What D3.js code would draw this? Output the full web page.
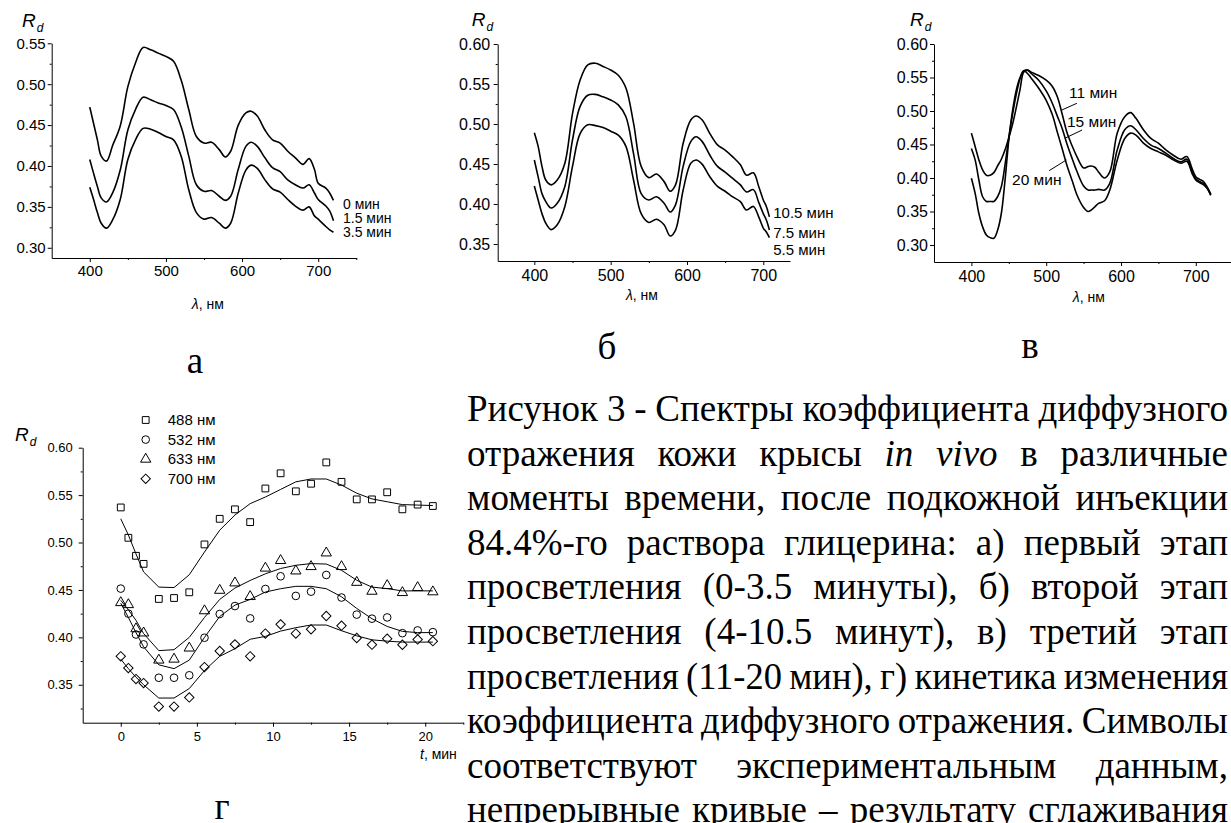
<!DOCTYPE html>
<html>
<head>
<meta charset="utf-8">
<script src="https://cdn.jsdelivr.net/npm/d3@7"></script>
<style>
  html, body { margin: 0; padding: 0; background: #fff; }
  svg { display: block; }
  .ax path, .ax line { stroke: #000; stroke-width: 1; fill: none; }
  .ax text { fill: #000; font-family: "Liberation Sans", Arial, Helvetica, sans-serif; }
</style>
</head>
<body>
<svg id="fig" width="1231" height="823"></svg>
<script>
// ---------- panel а: first clearing stage ----------
const waveA = [400,405,410,415,422,430,440,450,460,470,480,490,500,510,520,530,540,550,560,570,
               578,585,595,605,612,620,630,640,650,660,670,680,688,695,700,710,715,720];
const rdA_0 = [.472,.452,.432,.412,.406,.425,.449,.497,.526,.545,.542,.538,.534,.528,.505,.469,.436,.428,.429,.420,
               .411,.418,.450,.465,.467,.461,.444,.432,.428,.418,.410,.402,.409,.396,.379,.373,.367,.358];
const rdA_15 = [.408,.391,.375,.361,.356,.367,.395,.444,.469,.484,.481,.477,.474,.469,.448,.412,.377,.369,.370,.363,
                .358,.363,.396,.424,.429,.424,.410,.398,.393,.383,.377,.373,.377,.367,.359,.351,.345,.333];
const rdA_35 = [.374,.359,.343,.330,.324,.334,.359,.408,.432,.446,.445,.441,.436,.432,.412,.371,.343,.335,.337,.330,
                .324,.330,.367,.395,.401,.397,.383,.372,.368,.359,.351,.346,.350,.339,.335,.326,.322,.319];
const labelsA = ["0 мин", "1.5 мин", "3.5 мин"];

// ---------- panel б: second clearing stage ----------
const waveB = [400,405,410,415,422,430,440,450,460,470,480,490,500,510,520,530,540,550,560,570,
               578,585,595,605,612,620,630,640,650,660,670,678,687,694,700,704,708];
const rdB_105 = [.489,.472,.447,.430,.424,.430,.451,.513,.555,.574,.576,.572,.5675,.561,.545,.501,.447,.433,.4375,.428,
                 .416,.424,.476,.505,.510,.505,.488,.474,.4675,.459,.449,.436,.439,.422,.405,.397,.384];
const rdB_75 = [.455,.434,.413,.403,.395,.401,.422,.480,.522,.536,.537,.534,.530,.524,.509,.463,.413,.405,.409,.401,
                .390,.399,.447,.478,.484,.478,.461,.447,.440,.432,.424,.415,.418,.402,.388,.380,.3675];
const rdB_55 = [.4225,.405,.388,.376,.368,.374,.397,.447,.488,.499,.498,.4955,.491,.486,.472,.430,.388,.377,.381,.374,
                .360,.3675,.4175,.451,.455,.4496,.434,.422,.416,.409,.403,.3925,.397,.384,.370,.365,.358];
const labelsB = ["10.5 мин", "7.5 мин", "5.5 мин"];

// ---------- panel в: third clearing stage ----------
const waveC = [400,405,410,415,420,425,430,435,440,445,450,455,460,465,470,475,480,490,500,508,
               515,521,528,535,541,550,556,560,565,570,578,585,595,605,613,620,630,640,650,660,
               670,680,688,695,700,705,710,715,720];
const rdC_11 = [.467,.447,.427,.412,.404,.404,.408,.418,.428,.442,.460,.480,.505,.532,.558,.561,.558,.553,.546,.537,
                .521,.497,.467,.447,.432,.415,.417,.418,.416,.409,.400,.409,.467,.4915,.4975,.489,.472,.459,.452,.442,
                .434,.428,.432,.414,.402,.398,.395,.387,.376];
const rdC_15 = [.444,.427,.397,.372,.365,.365,.365,.372,.387,.420,.460,.495,.525,.548,.560,.561,.556,.546,.530,.512,
                .492,.475,.450,.428,.410,.388,.382,.382,.382,.383,.382,.392,.442,.472,.478,.472,.459,.449,.444,.437,
                .429,.424,.428,.409,.399,.395,.392,.385,.375];
const rdC_20 = [.3995,.377,.347,.327,.315,.311,.310,.322,.347,.397,.457,.500,.531,.550,.560,.556,.549,.534,.516,.495,
                .468,.445,.418,.395,.375,.356,.350,.352,.357,.362,.366,.382,.427,.459,.467,.464,.452,.444,.439,.434,
                .427,.422,.425,.407,.397,.393,.390,.385,.374];
const labelsC = ["11 мин", "15 мин", "20 мин"];
// label anchors [nm, Rd] and leader segments [[nm, Rd], [nm, Rd]]
const labelPosC = [[530.5, .5269], [527.8, .4836], [454.3, .397]];
const leadersC = [[[541, .5115], [521, .5015]], [[548, .4716], [525, .4593]], [[504, .411], [527, .4269]]];

// ---------- panel г: kinetics ----------
const timeD = [0,0.5,1,1.5,2.5,3.5,4.5,5.5,6.5,7.5,8.5,9.5,10.5,11.5,12.5,13.5,14.5,15.5,16.5,17.5,18.5,19.5,20.5];
const rd488 = [.537,.505,.486,.4775,.4405,.4415,.4475,.498,.525,.535,.5215,.557,.573,.554,.562,.5845,.564,.5455,.5455,.553,.535,.540,.5385];
const rd532 = [.4514,.425,.403,.3926,.3574,.3574,.360,.3996,.4246,.433,.420,.451,.4644,.4437,.4482,.4658,.442,.424,.4197,.421,.4044,.4073,.4055];
const rd633 = [.4366,.4345,.409,.4046,.376,.377,.3887,.428,.4496,.4574,.443,.473,.481,.470,.4746,.489,.4746,.458,.4486,.4546,.4472,.4525,.448];
const rd700 = [.380,.3676,.356,.3518,.327,.327,.3366,.3687,.3856,.3926,.380,.404,.4137,.404,.4085,.4225,.4123,.3993,.3923,.3986,.3922,.3978,.396];
const fit488 = [.525,.508,.488,.469,.453,.4525,.466,.490,.513,.529,.541,.548,.556,.564,.567,.567,.5606,.552,.546,.543,.540,.5395,.539];
const fit532 = [.436,.421,.405,.390,.371,.367,.376,.400,.422,.434,.440,.4478,.4513,.4538,.4538,.4513,.4428,.4305,.4197,.4115,.4063,.405,.405];
const fit633 = [.439,.429,.418,.404,.386,.387,.400,.421,.440,.452,.460,.467,.4726,.476,.4778,.4773,.4707,.4602,.453,.4514,.449,.449,.449];
const fit700 = [.377,.367,.358,.350,.336,.336,.346,.365,.380,.388,.398,.401,.4066,.4102,.413,.413,.407,.4016,.3974,.396,.395,.395,.395];
const legendD = ["488 нм", "532 нм", "633 нм", "700 нм"];

// ---------- caption ----------
const captionLines = [
  "Рисунок 3 - Спектры коэффициента диффузного",
  "отражения кожи крысы *in* *vivo* в различные",
  "моменты времени, после подкожной инъекции",
  "84.4%-го раствора глицерина: а) первый этап",
  "просветления (0-3.5 минуты), б) второй этап",
  "просветления (4-10.5 минут), в) третий этап",
  "просветления (11-20 мин), г) кинетика изменения",
  "коэффициента диффузного отражения. Символы",
  "соответствуют экспериментальным данным,",
  "непрерывные кривые – результату сглаживания"
];
const panelLetters = ["а", "б", "в", "г"];

// =====================================================================
const svg = d3.select("#fig");
const sans = "'Liberation Sans', Arial, Helvetica, sans-serif";
const serif = "'Liberation Serif', 'Times New Roman', Tinos, Times, serif";
const fmt2 = d3.format(".2f");

function drawAxes(p) {
  const g = svg.append("g").attr("class", "ax");
  const x0 = p.x.range()[0], y0 = p.y.range()[0];
  const ya = g.append("g").attr("transform", `translate(${x0},0)`)
    .call(d3.axisLeft(p.y).tickValues(p.yTicks).tickFormat(fmt2)
      .tickSize(4).tickSizeOuter(0).tickPadding(p.yPad));
  ya.selectAll("text").attr("font-size", p.fs);
  g.append("g").attr("transform", `translate(${x0},0)`)
    .call(d3.axisLeft(p.y).tickValues(p.yMinor).tickFormat("").tickSize(2))
    .select(".domain").remove();
  const xa = g.append("g").attr("transform", `translate(0,${y0})`)
    .call(d3.axisBottom(p.x).tickValues(p.xTicks).tickFormat(d3.format("d"))
      .tickSize(4).tickSizeOuter(0).tickPadding(p.xPad));
  xa.selectAll("text").attr("font-size", p.fs);
  g.append("g").attr("transform", `translate(0,${y0})`)
    .call(d3.axisBottom(p.x).tickValues(p.xMinor).tickFormat("").tickSize(2))
    .select(".domain").remove();
  g.selectAll("text").attr("font-family", sans);
}

function rdLabel(x, y) {
  const t = svg.append("text").attr("x", x).attr("y", y)
    .attr("font-family", sans).attr("font-style", "italic").attr("font-size", 19);
  t.append("tspan").text("R");
  t.append("tspan").attr("font-size", 12).attr("dx", 1).attr("dy", 5).text("d");
}

function unitLabel(cx, y, sym, unit) {
  const t = svg.append("text").attr("x", cx).attr("y", y).attr("text-anchor", "middle")
    .attr("font-family", sans).attr("font-size", 14);
  t.append("tspan").attr("font-style", "italic").text(sym);
  t.append("tspan").text(unit);
}

function spectra(p, wave, series) {
  const line = d3.line()
    .x((d, i) => p.x(wave[i]))
    .y(d => p.y(d))
    .curve(d3.curveCatmullRom.alpha(0.5));
  svg.append("g").selectAll("path").data(series).join("path")
    .attr("d", line).attr("fill", "none").attr("stroke", "#000")
    .attr("stroke-width", 1.6).attr("stroke-linejoin", "round");
}

// ---------- panel а ----------
const pA = {
  x: d3.scaleLinear().domain([350, 750]).range([51.7, 356.3]),
  y: d3.scaleLinear().domain([0.2875, 0.55]).range([258, 43.3]),
  yTicks: [0.30, 0.35, 0.40, 0.45, 0.50, 0.55],
  yMinor: [0.325, 0.375, 0.425, 0.475, 0.525],
  xTicks: [400, 500, 600, 700], xMinor: [450, 550, 650, 750],
  fs: 15, yPad: 2, xPad: 3
};
drawAxes(pA);
spectra(pA, waveA, [rdA_0, rdA_15, rdA_35]);
svg.append("g").selectAll("text").data(labelsA).join("text")
  .attr("x", pA.x(732.5))
  .attr("y", (d, i) => pA.y([0.3535, 0.3364, 0.3193][i]))
  .attr("dy", "0.35em").attr("font-family", sans).attr("font-size", 14).text(d => d);
rdLabel(22, 27);
unitLabel(pA.x(555), 309, "λ", ", нм");

// ---------- panel б ----------
const pB = {
  x: d3.scaleLinear().domain([352, 735]).range([497.7, 790]),
  y: d3.scaleLinear().domain([0.3288, 0.60]).range([261, 44]),
  yTicks: [0.35, 0.40, 0.45, 0.50, 0.55, 0.60],
  yMinor: [0.375, 0.425, 0.475, 0.525, 0.575],
  xTicks: [400, 500, 600, 700], xMinor: [450, 550, 650],
  fs: 16, yPad: 3.5, xPad: 5
};
drawAxes(pB);
spectra(pB, waveB, [rdB_105, rdB_75, rdB_55]);
svg.append("g").selectAll("text").data(labelsB).join("text")
  .attr("x", pB.x(713))
  .attr("y", (d, i) => pB.y([0.389, 0.3645, 0.343][i]))
  .attr("dy", "0.35em").attr("font-family", sans).attr("font-size", 15).text(d => d);
rdLabel(471.7, 26);
unitLabel(pB.x(541), 300, "λ", ", нм");

// ---------- panel в ----------
const pC = {
  x: d3.scaleLinear().domain([350, 750]).range([934, 1233.2]),
  y: d3.scaleLinear().domain([0.2746, 0.60]).range([262, 44]),
  yTicks: [0.30, 0.35, 0.40, 0.45, 0.50, 0.55, 0.60],
  yMinor: [0.325, 0.375, 0.425, 0.475, 0.525, 0.575],
  xTicks: [400, 500, 600, 700], xMinor: [450, 550, 650, 750],
  fs: 16, yPad: 2, xPad: 5
};
drawAxes(pC);
spectra(pC, waveC, [rdC_11, rdC_15, rdC_20]);
svg.append("g").selectAll("line").data(leadersC).join("line")
  .attr("x1", d => pC.x(d[0][0])).attr("y1", d => pC.y(d[0][1]))
  .attr("x2", d => pC.x(d[1][0])).attr("y2", d => pC.y(d[1][1]))
  .attr("stroke", "#000").attr("stroke-width", 1);
svg.append("g").selectAll("text").data(labelsC).join("text")
  .attr("x", (d, i) => pC.x(labelPosC[i][0]))
  .attr("y", (d, i) => pC.y(labelPosC[i][1]))
  .attr("dy", "0.35em").attr("font-family", sans).attr("font-size", 15.5).text(d => d);
rdLabel(910, 26);
unitLabel(pC.x(557), 302, "λ", ", нм");

// ---------- panel г ----------
const pD = {
  x: d3.scaleLinear().domain([-2.5, 22.5]).range([82.7, 463.3]),
  y: d3.scaleLinear().domain([0.31, 0.60]).range([722.7, 447.7]),
  yTicks: [0.35, 0.40, 0.45, 0.50, 0.55, 0.60],
  yMinor: [0.325, 0.375, 0.425, 0.475, 0.525, 0.575],
  xTicks: [0, 5, 10, 15, 20], xMinor: [2.5, 7.5, 12.5, 17.5, 22.5],
  fs: 13, yPad: 6, xPad: 5
};
drawAxes(pD);

const fitLine = d3.line().x((d, i) => pD.x(timeD[i])).y(d => pD.y(d));
svg.append("g").selectAll("path").data([fit488, fit532, fit633, fit700]).join("path")
  .attr("d", fitLine).attr("fill", "none").attr("stroke", "#000").attr("stroke-width", 1);

// marker shapes: square, circle, triangle, diamond (rotated square)
const shapePaths = [
  d3.symbol(d3.symbolSquare, 46)(),
  d3.symbol(d3.symbolCircle, 46)(),
  d3.symbol(d3.symbolTriangle, 46)(),
  d3.symbol(d3.symbolSquare, 44)()
];
const shapeRot = [0, 0, 0, 45];
const pointSeries = [rd488, rd532, rd633, rd700];
pointSeries.forEach((vals, k) => {
  svg.append("g").selectAll("path").data(vals).join("path")
    .attr("d", shapePaths[k])
    .attr("transform", (d, i) => `translate(${pD.x(timeD[i])},${pD.y(d)}) rotate(${shapeRot[k]})`)
    .attr("fill", "none").attr("stroke", "#000").attr("stroke-width", 1);
});

// legend
const leg = svg.append("g").attr("transform", "translate(145.7,420)");
legendD.forEach((name, k) => {
  const row = leg.append("g").attr("transform", `translate(0,${k * 19.6})`);
  row.append("path").attr("d", shapePaths[k]).attr("transform", `rotate(${shapeRot[k]})`)
    .attr("fill", "none").attr("stroke", "#000").attr("stroke-width", 1);
  row.append("text").attr("x", 22).attr("dy", "0.35em")
    .attr("font-family", sans).attr("font-size", 15).text(name);
});
rdLabel(15, 441);
{
  const t = svg.append("text").attr("x", 420).attr("y", 759)
    .attr("font-family", sans).attr("font-size", 14);
  t.append("tspan").attr("font-style", "italic").text("t");
  t.append("tspan").text(", мин");
}

// ---------- caption (justified serif paragraph) ----------
const capLeft = 467, capRight = 1228, capTop = 421, capStep = 44.6, capFs = 37, capSx = 1;
const capWidth = capRight - capLeft;
const meas = svg.append("text").attr("font-family", serif).attr("font-size", capFs);
function measure(word, italic) {
  meas.attr("font-style", italic ? "italic" : "normal").text(word);
  return meas.node().getComputedTextLength();
}
const minSpace = capFs * 0.2;
const parsed = captionLines.map(line => line.split(" ").map(w => {
  const it = /^\*.*\*$/.test(w);
  const word = it ? w.slice(1, -1) : w;
  return { word, it, w: measure(word, it) };
}));
meas.remove();

parsed.forEach((ws, li) => {
  const total = d3.sum(ws, d => d.w);
  const gaps = ws.length - 1;
  const sx = Math.min(capSx, capWidth / (total + gaps * minSpace));
  const gap = (capWidth / sx - total) / gaps;
  const g = svg.append("g").attr("transform", `translate(${capLeft},${capTop + li * capStep}) scale(${sx},1)`);
  let cx = 0;
  ws.forEach(d => {
    g.append("text").attr("x", cx).attr("font-family", serif).attr("font-size", capFs)
      .attr("font-style", d.it ? "italic" : "normal").text(d.word);
    cx += d.w + gap;
  });
});

// panel letters under each chart
const letterPos = [[195, 373], [607, 359], [1030, 358], [222, 819]];
panelLetters.forEach((L, i) => {
  svg.append("g").attr("transform", `translate(${letterPos[i][0]},${letterPos[i][1]}) scale(${capSx},1)`)
    .append("text").attr("text-anchor", "middle").attr("font-family", serif)
    .attr("font-size", capFs).text(L);
});
</script>
</body>
</html>
